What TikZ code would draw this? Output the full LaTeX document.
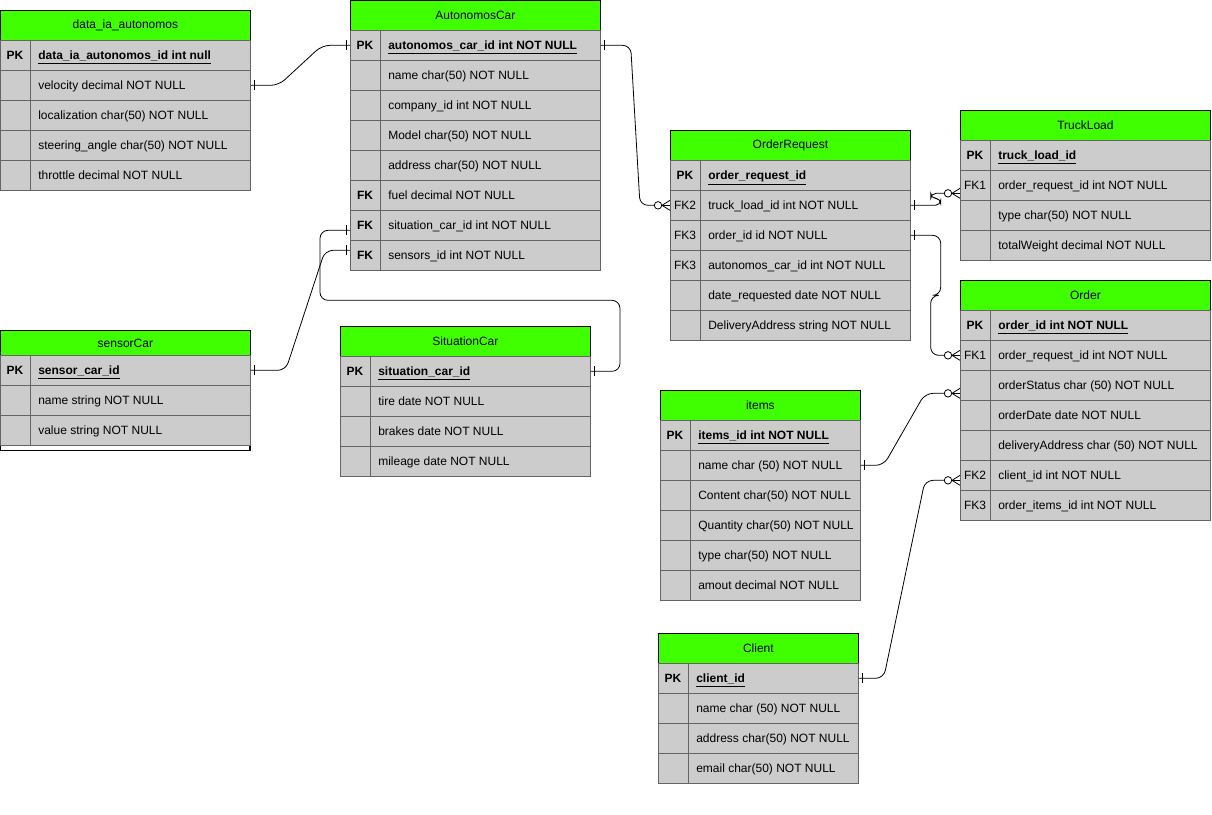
\documentclass[tikz,border=0pt]{standalone}
\usepackage{fontspec}
\setmainfont{Liberation Sans}
\usetikzlibrary{calc}
\definecolor{hdrgreen}{RGB}{64,255,0}
\definecolor{rowgray}{RGB}{204,204,204}
\definecolor{rowline}{RGB}{100,100,100}
\tikzset{
  erhd/.style={draw=black, fill=hdrgreen, line width=0.6pt, inner sep=0pt, minimum height=22.5pt, font=\fontsize{9}{10}\selectfont},
  errowst/.style={draw=rowline, fill=rowgray, line width=0.5pt, inner sep=0pt, minimum height=22.5pt},
  erkey/.style={draw=rowline, fill=rowgray, line width=0.5pt, inner sep=0pt, minimum width=22.5pt, minimum height=22.5pt},
  erkeytxt/.style={inner sep=0pt, font=\fontsize{9}{10}\selectfont},
  ertxt/.style={inner sep=0pt, font=\fontsize{9}{10}\selectfont},
  conn/.style={draw=black, line width=0.6pt, rounded corners=6pt},
  ermark/.style={draw=black, line width=0.6pt},
  zc/.style={draw=black, fill=white, line width=0.6pt},
}
% header: name, x, y, width, title
\newcommand{\erhead}[5]{\node[erhd, minimum width=#4*0.75pt, anchor=north west] (#1) at (#2,#3) {#5};}
% row: name, x, y, width, key, text
\newcommand{\errow}[6]{%
  \node[errowst, minimum width=#4*0.75pt, anchor=north west] (#1) at (#2,#3) {};
  \node[erkey, anchor=north west] (#1-k) at (#2,#3) {};
  \node[erkeytxt, anchor=base] (#1-kt) at (#2+15,#3+19.5) {#5};
  \node[ertxt, anchor=base west] (#1-t) at (#2+38,#3+19.5) {#6};}
\newcommand{\pkt}[1]{\underline{\textbf{#1}}}
% one-bar marks
\newcommand{\barR}[2]{\draw[ermark] ($(#1)+(#2,-5)$) -- ($(#1)+(#2,5)$);}
% zero-to-many entering from the left at coordinate #1
\newcommand{\zmL}[1]{%
  \draw[ermark] ($(#1)+(-8,0)$) -- ($(#1)+(0,-5)$);
  \draw[ermark] ($(#1)+(-8,0)$) -- ($(#1)+(0,0)$);
  \draw[ermark] ($(#1)+(-8,0)$) -- ($(#1)+(0,5)$);
  \draw[zc] ($(#1)+(-12,0)$) circle (2.8pt);}
\begin{document}
\begin{tikzpicture}[x=0.75pt,y=-0.75pt]
\useasboundingbox (0,0) rectangle (1212,814);
\fill[white] (0,0) rectangle (1212,814);

% data_ia_autonomos
\erhead{dia}{0}{10}{250}{data\_ia\_autonomos}
\errow{dia-pk}{0}{40}{250}{\textbf{PK}}{\pkt{data\_ia\_autonomos\_id int null}}
\errow{dia-vel}{0}{70}{250}{}{velocity decimal NOT NULL}
\errow{dia-loc}{0}{100}{250}{}{localization char(50) NOT NULL}
\errow{dia-str}{0}{130}{250}{}{steering\_angle char(50) NOT NULL}
\errow{dia-thr}{0}{160}{250}{}{throttle decimal NOT NULL}

% AutonomosCar
\erhead{ac}{350}{0}{250}{AutonomosCar}
\errow{ac-pk}{350}{30}{250}{\textbf{PK}}{\pkt{autonomos\_car\_id int NOT NULL}}
\errow{ac-name}{350}{60}{250}{}{name char(50) NOT NULL}
\errow{ac-comp}{350}{90}{250}{}{company\_id int NOT NULL}
\errow{ac-model}{350}{120}{250}{}{Model char(50) NOT NULL}
\errow{ac-addr}{350}{150}{250}{}{address char(50) NOT NULL}
\errow{ac-fuel}{350}{180}{250}{\textbf{FK}}{fuel decimal NOT NULL}
\errow{ac-sit}{350}{210}{250}{\textbf{FK}}{situation\_car\_id int NOT NULL}
\errow{ac-sen}{350}{240}{250}{\textbf{FK}}{sensors\_id int NOT NULL}

% OrderRequest
\erhead{or}{670}{130}{240}{OrderRequest}
\errow{or-pk}{670}{160}{240}{\textbf{PK}}{\pkt{order\_request\_id}}
\errow{or-fk2}{670}{190}{240}{FK2}{truck\_load\_id int NOT NULL}
\errow{or-fk3}{670}{220}{240}{FK3}{order\_id id NOT NULL}
\errow{or-fk3b}{670}{250}{240}{FK3}{autonomos\_car\_id int NOT NULL}
\errow{or-date}{670}{280}{240}{}{date\_requested date NOT NULL}
\errow{or-del}{670}{310}{240}{}{DeliveryAddress string NOT NULL}

% TruckLoad
\erhead{tl}{960}{110}{250}{TruckLoad}
\errow{tl-pk}{960}{140}{250}{\textbf{PK}}{\pkt{truck\_load\_id}}
\errow{tl-fk1}{960}{170}{250}{FK1}{order\_request\_id int NOT NULL}
\errow{tl-type}{960}{200}{250}{}{type char(50) NOT NULL}
\errow{tl-tw}{960}{230}{250}{}{totalWeight decimal NOT NULL}

% Order
\erhead{ord}{960}{280}{250}{Order}
\errow{ord-pk}{960}{310}{250}{\textbf{PK}}{\pkt{order\_id int NOT NULL}}
\errow{ord-fk1}{960}{340}{250}{FK1}{order\_request\_id int NOT NULL}
\errow{ord-st}{960}{370}{250}{}{orderStatus char (50) NOT NULL}
\errow{ord-date}{960}{400}{250}{}{orderDate date NOT NULL}
\errow{ord-del}{960}{430}{250}{}{deliveryAddress char (50) NOT NULL}
\errow{ord-fk2}{960}{460}{250}{FK2}{client\_id int NOT NULL}
\errow{ord-fk3}{960}{490}{250}{FK3}{order\_items\_id int NOT NULL}

% sensorCar
\node[erhd, minimum width=250*0.75pt, minimum height=18.75pt, anchor=north west] (sc) at (0,330) {sensorCar};
\errow{sc-pk}{0}{355}{250}{\textbf{PK}}{\pkt{sensor\_car\_id}}
\errow{sc-name}{0}{385}{250}{}{name string NOT NULL}
\errow{sc-val}{0}{415}{250}{}{value string NOT NULL}
\draw[black, line width=0.8pt] (sc-val.south west) -- ++(0,5) -- ++(250,0) -- ++(0,-5);

% SituationCar
\erhead{sit}{340}{326}{250}{SituationCar}
\errow{sit-pk}{340}{356}{250}{\textbf{PK}}{\pkt{situation\_car\_id}}
\errow{sit-tire}{340}{386}{250}{}{tire date NOT NULL}
\errow{sit-brk}{340}{416}{250}{}{brakes date NOT NULL}
\errow{sit-mil}{340}{446}{250}{}{mileage date NOT NULL}

% items
\erhead{it}{660}{390}{200}{items}
\errow{it-pk}{660}{420}{200}{\textbf{PK}}{\pkt{items\_id int NOT NULL}}
\errow{it-name}{660}{450}{200}{}{name char (50) NOT NULL}
\errow{it-cont}{660}{480}{200}{}{Content char(50) NOT NULL}
\errow{it-qty}{660}{510}{200}{}{Quantity char(50) NOT NULL}
\errow{it-type}{660}{540}{200}{}{type char(50) NOT NULL}
\errow{it-am}{660}{570}{200}{}{amout decimal NOT NULL}

% Client
\erhead{cl}{658}{633}{200}{Client}
\errow{cl-pk}{658}{663}{200}{\textbf{PK}}{\pkt{client\_id}}
\errow{cl-name}{658}{693}{200}{}{name char (50) NOT NULL}
\errow{cl-addr}{658}{723}{200}{}{address char(50) NOT NULL}
\errow{cl-mail}{658}{753}{200}{}{email char(50) NOT NULL}

% ---------- connectors ----------
\coordinate (e-or-tl) at ($(tl-fk1.west)+(0,8)$);
\coordinate (e-ord-fk1) at (ord-fk1.west);
\coordinate (e-ord-st) at ($(ord-st.west)+(0,8)$);
\coordinate (e-ord-fk2) at ($(ord-fk2.west)+(0,5)$);
\coordinate (e-ac-sit) at ($(ac-sit.west)+(0,5)$);
\coordinate (e-ac-sen) at ($(ac-sen.west)+(0,-5)$);

% data_ia velocity -> AutonomosCar PK
\draw[conn] (dia-vel.east) -- ++(28,0) -- ($(ac-pk.west)+(-28,0)$) -- (ac-pk.west);
\barR{dia-vel.east}{4}
\barR{ac-pk.west}{-4}

% AutonomosCar PK -> OrderRequest FK2
\draw[conn] (ac-pk.east) -- ++(30,0) -- ($(or-fk2.west)+(-30,0)$) -- ($(or-fk2.west)+(-15,0)$);
\barR{ac-pk.east}{4}
\zmL{or-fk2.west}

% OrderRequest FK2 -> TruckLoad FK1
\draw[conn, rounded corners=4pt] (or-fk2.east) -- ++(30,0) -- ++(0,-7) -- ++(-10,0) |- ($(e-or-tl)+(-15,0)$);
\barR{or-fk2.east}{4}
\zmL{e-or-tl}

% OrderRequest FK3 -> Order FK1
\draw[conn] (or-fk3.east) -- ++(30,0) -- ++(0,60) -- ++(-10,0) |- ($(e-ord-fk1)+(-15,0)$);
\barR{or-fk3.east}{4}
\zmL{e-ord-fk1}

% AutonomosCar FK situation -> SituationCar PK
\draw[conn] (e-ac-sit) -- ++(-30,0) -- ++(0,70) -- ++(300,0) |- (sit-pk.east);
\barR{e-ac-sit}{-4}
\barR{sit-pk.east}{4}

% AutonomosCar FK sensors -> sensorCar PK
\draw[conn] (e-ac-sen) -- ++(-25,0) -- ($(sc-pk.east)+(35,0)$) -- (sc-pk.east);
\barR{e-ac-sen}{-4}
\barR{sc-pk.east}{4}

% items name -> Order orderStatus
\draw[conn] (it-name.east) -- ++(23,0) -- ($(e-ord-st)+(-35,0)$) -- ($(e-ord-st)+(-15,0)$);
\barR{it-name.east}{4}
\zmL{e-ord-st}

% Client PK -> Order FK2
\draw[conn] (cl-pk.east) -- ++(25,0) -- ($(e-ord-fk2)+(-35,0)$) -- ($(e-ord-fk2)+(-15,0)$);
\barR{cl-pk.east}{4}
\zmL{e-ord-fk2}
\end{tikzpicture}
\end{document}
